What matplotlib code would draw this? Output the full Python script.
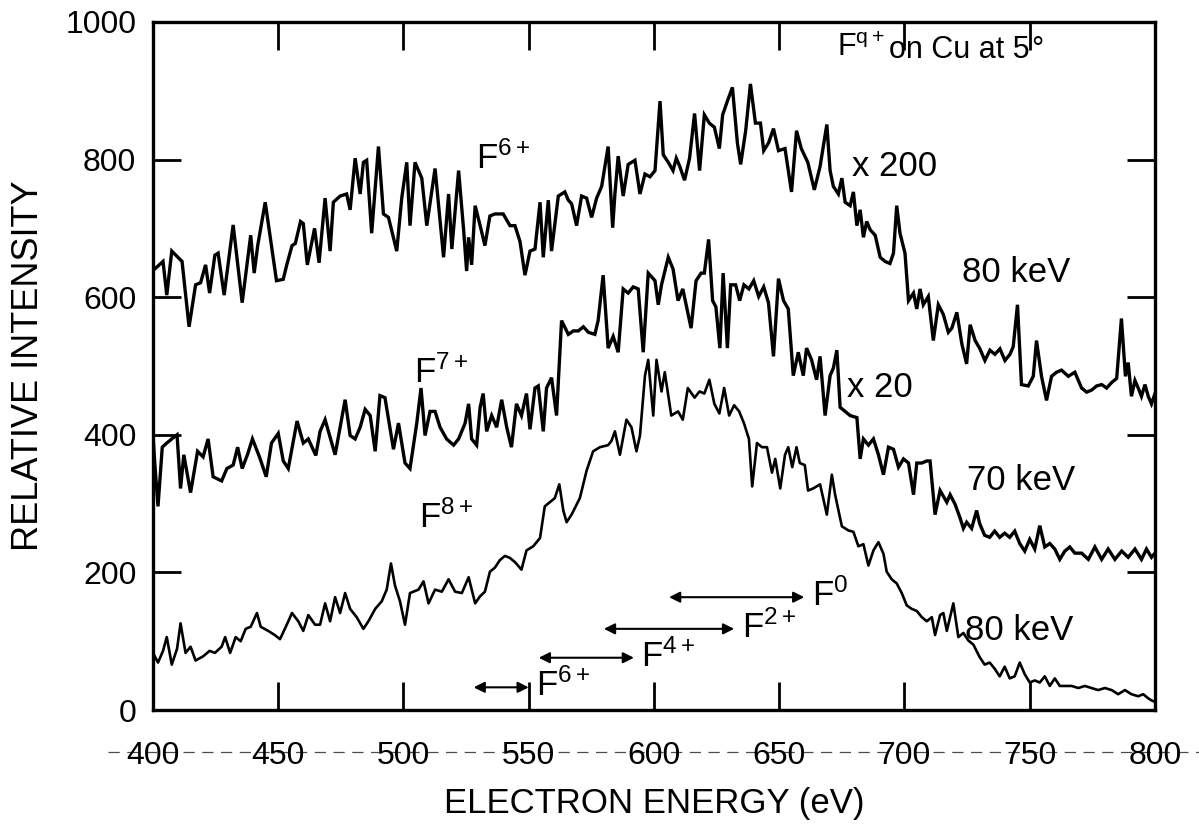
import matplotlib
matplotlib.use("Agg")
import matplotlib.pyplot as plt
from matplotlib.lines import Line2D

plt.rcParams["font.family"] = ["Liberation Sans", "DejaVu Sans"]
plt.rcParams["mathtext.fontset"] = "custom"
plt.rcParams["mathtext.rm"] = "Liberation Sans"
plt.rcParams["mathtext.it"] = "Liberation Sans"

# F6+ spectrum, 80 keV, x200
f6_e = [400, 400.7, 404, 405.5, 407.5, 411.6, 414.4, 417, 419, 421, 422.6, 424.7, 426, 428.4,
        432, 435.6, 439, 440.4, 441.8, 444.8, 449.3, 452, 453.4, 455.5, 456.8, 458.9, 460, 461.6,
        464.5, 466.3, 468.7, 470.7, 472, 474.7, 477.3, 478.7, 480.7, 482.7, 484, 485.3, 487.3, 490,
        492, 494, 497.3, 499.3, 501.3, 502.6, 504.6, 507.3, 509.3, 512.6, 516, 518, 519.3, 522,
        524, 525.2, 526, 527.2, 528.6, 530.6, 532.5, 534.5, 536.5, 539.8, 542.5, 544.5, 546.5,
        548.5, 550.5, 552.5, 554.5, 555.8, 557.8, 559.1, 561.8, 564.4, 565.8, 567.1, 569.1, 571.1,
        573.1, 575.1, 577.1, 579.1, 581.7, 583.5, 584.4, 585.7, 587.7, 589.7, 592.4, 594.4, 596.4,
        598.4, 600.4, 602.4, 603.7, 605.7, 607.6, 608.9, 610.3, 612.2, 614.2, 616.2, 618.2, 620.1,
        622.1, 624.1, 626.1, 627.4, 629.3, 631.3, 633.3, 634.6, 636.6, 638.5, 640.5, 642.5, 643.8,
        645.7, 647.7, 649.7, 652.3, 654.9, 656.9, 658.8, 661.4, 664, 666.3, 669, 670.3, 671.6,
        673.6, 675, 676.3, 678.3, 679.6, 681, 682.3, 683.6, 684.9, 686.3, 688.3, 690.3, 692.2,
        694.2, 695.6, 696.9, 698.2, 700.2, 701.6, 703.6, 704.9, 706.2, 707.5, 709.5, 711.5, 713.5,
        715.5, 717.5, 718.9, 720.9, 722.9, 724.8, 726.2, 728.2, 730.1, 732.1, 734.1, 736.1, 738.1,
        740.1, 742.1, 743.4, 745.1, 746.7, 749.4, 751.4, 752.7, 754.7, 756.7, 758.7, 760.7, 762.7,
        765.4, 768, 770.7, 772.7, 774.7, 776.7, 778.7, 780.7, 782.7, 784.7, 786.6, 788.2, 789.3,
        790.6, 792, 793.3, 794.6, 796, 797.3, 798.6, 800]
f6_i = [641, 641, 652, 603, 667, 652, 557, 618, 621, 647, 606, 661, 664, 603,
        705, 592, 690, 635, 675, 738, 624, 626, 647, 675, 678, 710, 707, 647,
        700, 650, 744, 667, 738, 747, 750, 727, 802, 750, 796, 799, 693, 819,
        721, 716, 667, 744, 796, 704, 796, 773, 704, 787, 658, 750, 670, 784,
        698, 638, 687, 647, 733, 704, 675, 718, 721, 721, 704, 704, 681,
        632, 667, 670, 738, 658, 741, 667, 747, 753, 741, 736, 704, 747,
        744, 716, 744, 761, 819, 701, 750, 805, 747, 793, 799, 750, 779,
        775, 784, 885, 807, 796, 784, 802, 790, 770, 802, 867, 784, 865,
        853, 847, 816, 865, 885, 905, 824, 793, 842, 910, 853, 853, 813,
        824, 845, 813, 816, 753, 842, 816, 796, 756, 790, 851, 784, 761,
        750, 773, 738, 733, 753, 704, 727, 687, 710, 698, 690, 658, 652,
        649, 664, 733, 693, 664, 595, 606, 583, 612, 589, 601, 537, 589,
        575, 549, 555, 578, 532, 503, 560, 537, 525, 508, 523, 517, 525,
        508, 517, 528, 589, 473, 471, 485, 537, 485, 450, 485, 491, 494,
        485, 491, 468, 462, 465, 471, 473, 468, 476, 482, 569, 485, 505,
        456, 479, 468, 456, 473, 456, 445, 460]

# F7+ spectrum, 70 keV, x20
f7_e = [400, 400.7, 402, 403.7, 405.5, 407.5, 409.6, 411, 412.3, 415, 417.8, 420, 422, 424,
        427.4, 429.5, 432, 433.8, 435.6, 437.7, 439.7, 442.5, 445.2, 447.3, 450, 452, 454, 457.5,
        460, 462, 465, 466.7, 468.7, 472.7, 476.7, 478.7, 480.7, 482.7, 484.7, 486.7, 488.7,
        490.6, 492.6, 496, 498, 500.6, 502.6, 505.3, 507, 508.6, 510.6, 512.6, 514.6, 517.2, 520,
        522, 524.6, 526, 527.2, 529.2, 530.6, 531.8, 533.2, 535.2, 537.2, 539.2, 541.2, 543.1,
        545.1, 547.1, 549.1, 550.5, 552.5, 553.8, 555.8, 557.1, 559.1, 561.1, 563.1, 565.8, 567.8,
        569.8, 571.8, 573.8, 576.4, 577.7, 579.7, 581.7, 583.7, 585.7, 587.7, 589.7, 591.7, 593.7,
        595.7, 597.7, 600.4, 601.7, 603, 605.7, 607.6, 609.6, 611.5, 614.8, 616.8, 618.8, 620.1,
        621.8, 623.4, 624.7, 626.3, 627.6, 629.3, 630.6, 632.6, 634.2, 635.9, 637.9, 639.8, 641.8,
        643.8, 645.7, 647.7, 649.7, 651.7, 653.6, 655.6, 657.6, 659.6, 660.9, 662.9, 664.9, 666.3,
        668.3, 670.3, 671.6, 673, 674.3, 676.3, 678.3, 681, 682.3, 683.6, 685.6, 687.6, 689.6,
        691.6, 693.6, 695.6, 697.6, 699.6, 701.6, 703.6, 704.9, 706.9, 708.9, 710.2, 712.2, 714.2,
        716.9, 718.2, 720.2, 722.2, 723.5, 724.8, 726.8, 728.8, 730, 732, 734, 736, 738, 740, 742,
        744, 746, 748, 750, 752, 754, 756, 758, 760, 762, 764, 766, 768, 770.7, 773.4, 776, 778.7,
        781.3, 784, 786.7, 789.3, 792, 794.6, 796.6, 798.6, 800]
f7_i = [400, 359, 296, 382, 388, 394, 400, 322, 371, 316, 376, 368, 394, 339,
        333, 351, 356, 382, 351, 371, 394, 368, 339, 388, 402, 362, 351, 420,
        388, 394, 370, 405, 422, 371, 451, 399, 394, 411, 437, 428, 376,
        457, 454, 379, 417, 359, 351, 417, 468, 399, 434, 434, 411, 394, 385,
        394, 417, 445, 394, 385, 440, 460, 405, 428, 411, 451, 411, 382,
        445, 428, 460, 408, 468, 471, 405, 468, 483, 428, 566, 546, 551,
        551, 557, 549, 546, 566, 632, 526, 543, 520, 612, 606, 615, 612,
        520, 635, 624, 589, 618, 658, 641, 595, 612, 555, 624, 635, 635,
        684, 595, 586, 526, 635, 526, 618, 618, 595, 618, 612, 624, 601,
        615, 592, 514, 627, 595, 583, 486, 520, 486, 526, 509, 480, 514,
        428, 486, 497, 523, 440, 434, 428, 425, 365, 394, 385, 394, 371,
        342, 382, 379, 353, 365, 359, 313, 359, 359, 362, 362, 284, 319,
        302, 313, 299, 279, 264, 273, 264, 290, 271, 254, 251, 260, 251, 257, 251,
        260, 242, 231, 248, 234, 268, 237, 242, 234, 219, 231, 237, 228, 228, 219, 237, 219,
        234, 219, 231, 222, 234, 219, 234, 222, 228]

# F8+ spectrum, 80 keV, x1
f8_e = [400, 402, 404, 405.5, 407.5, 409.6, 411, 413, 415, 417, 420, 422.6, 424.7, 427.4,
        428.8, 430.8, 433, 435, 437, 439, 441.5, 443, 446, 448.6, 450.7, 453.4, 455.5, 458, 460,
        462, 464.7, 466.7, 468.7, 470.7, 472.7, 474.7, 476.7, 478.7, 481.3, 484, 486, 488.7,
        491.3, 493.3, 495, 496.6, 498.6, 500.6, 502.6, 506, 508, 510, 512.6, 515.3, 518, 520.6,
        523.3, 526, 528.6, 530.5, 532.5, 534.5, 536.5, 538.5, 540.5, 542.5, 544.5, 547.1, 549.1,
        551.8, 554.5, 556.4, 558.4, 560.4, 562.2, 563.8, 565.1, 567.1, 570.4, 573.1, 575.7, 578.4,
        581.7, 583, 584.4, 586.4, 589, 591, 593, 594.4, 596.4, 597.7, 599.7, 601, 603, 604.3,
        606.9, 609.6, 611.5, 613.5, 616.2, 618.2, 620.1, 622.1, 624.1, 626.1, 628, 630, 632, 634,
        635.9, 637.9, 639.2, 641.1, 643.1, 645.1, 647.1, 648.4, 650.4, 652.3, 653.6, 655.2,
        656.9, 658.2, 660.2, 661.5, 663.5, 666.3, 669, 671, 672.3, 675, 677.6, 679.6, 681.6,
        683.6, 685.6, 687.6, 689.6, 691.6, 692.9, 694.9, 696.9, 698.9, 700.9, 702.9, 704.9,
        706.9, 708.9, 710.9, 712.2, 714.2, 715.5, 716.9, 718.2, 719.5, 721.5, 723.5, 725.5,
        727.5, 730, 732, 734, 736, 738, 740, 742, 744, 746, 748, 750, 752, 754, 756, 758, 760,
        762, 764, 766.7, 769.4, 772, 774.7, 777.3, 780, 782.7, 785.3, 788, 790.6, 793.3, 795.3,
        797.3, 798.6, 800]
f8_i = [83, 69, 86, 106, 66, 89, 126, 83, 92, 72, 78, 86, 83, 92,
        106, 83, 106, 100, 118, 121, 141, 121, 115, 109, 103, 124, 141, 129, 115,
        138, 124, 124, 155, 129, 164, 141, 170, 147, 135, 118, 129, 147,
        158, 175, 213, 181, 158, 124, 170, 175, 187, 155, 175, 172, 190, 172,
        170, 193, 155, 165, 172, 201, 207, 218, 224, 221, 215, 204, 232,
        238, 250, 296, 302, 308, 328, 290, 273, 284, 308, 348, 376, 382,
        385, 391, 405, 371, 422, 411, 376, 399, 486, 509, 428, 509, 463, 491,
        428, 434, 422, 468, 454, 463, 460, 480, 445, 431, 468, 428, 443, 434,
        417, 394, 325, 388, 382, 382, 345, 365, 322, 371, 382, 353,
        382, 359, 356, 319, 322, 328, 284, 342, 313, 267, 261, 259, 238,
        241, 210, 232, 244, 227, 201, 190, 184, 170, 152, 147, 144,
        135, 129, 135, 109, 138, 141, 115, 135, 155, 106, 112, 101,
        95, 77, 66, 69, 60, 49, 63, 46, 49, 69, 52, 40, 43, 40, 49, 35, 46,
        35, 35, 35, 32, 35, 32, 29, 32, 29, 23, 29, 23, 20, 23,
        17, 14, 12]

# energy windows marked with double arrows: (from, to, level)
windows = ["F$^{\\mathrm{0}}$", "F$^{\\mathrm{2+}}$", "F$^{\\mathrm{4+}}$", "F$^{\\mathrm{6+}}$"]
win_lo = [606, 580, 554, 528]
win_hi = [660, 632, 592, 550]
win_level = [164, 118, 76, 33]

fs = 25

fig = plt.figure(figsize=(11.99, 8.26), dpi=100)
ax = fig.add_axes([0.1276, 0.1404, 0.8357, 0.8330])

ax.plot(f6_e, f6_i, color="black", lw=2.4, solid_joinstyle="miter")
ax.plot(f7_e, f7_i, color="black", lw=2.4, solid_joinstyle="miter")
ax.plot(f8_e, f8_i, color="black", lw=1.9)

for lo, hi, lev, name in zip(win_lo, win_hi, win_level, windows):
    ax.annotate("", xy=(hi, lev), xytext=(lo, lev),
                arrowprops=dict(arrowstyle="<|-|>", color="black", lw=1.5,
                                mutation_scale=16, shrinkA=0, shrinkB=0))
    ax.text(hi + 3, lev + 2, name, fontsize=fs, ha="left", va="center")

ax.set_xlim(400, 800)
ax.set_ylim(0, 1000)
ax.set_xticks(range(400, 801, 50))
ax.set_yticks(range(0, 1001, 200))
ax.tick_params(axis="both", direction="in", length=20, width=2, top=True, right=True,
               labelsize=23)
ax.tick_params(axis="x", pad=22)
ax.tick_params(axis="y", pad=12)
for s in ax.spines.values():
    s.set_linewidth(2.4)

ax.set_xlabel("ELECTRON ENERGY (eV)", fontsize=25, labelpad=12)
ax.set_ylabel("RELATIVE INTENSITY", fontsize=26, labelpad=14)

# note at the top, condensed like the original lettering
narrow = ["Liberation Sans Narrow", "Liberation Sans"]
t1 = ax.text(673, 962, "F$^{\\mathrm{q+}}$", fontsize=22, va="center")
t2 = ax.annotate("on Cu at 5", xy=(1, 0.5), xycoords=t1, xytext=(3, -1),
                 textcoords="offset points", fontsize=22, va="center", ha="left",
                 family=narrow)
ax.annotate("°", xy=(1, 0.5), xycoords=t2, xytext=(1, 0),
            textcoords="offset points", fontsize=22, va="center", ha="left")

# curve labels
ax.text(529, 802, "F$^{\\mathrm{6+}}$", fontsize=fs, va="center")
ax.text(679, 790, "x 200", fontsize=fs, va="center")
ax.text(723, 636, "80 keV", fontsize=fs, va="center")
ax.text(504, 490, "F$^{\\mathrm{7+}}$", fontsize=fs, va="center")
ax.text(677, 469, "x 20", fontsize=fs, va="center")
ax.text(725, 334, "70 keV", fontsize=fs, va="center")
ax.text(506, 280, "F$^{\\mathrm{8+}}$", fontsize=fs, va="center")
ax.text(724, 116, "80 keV", fontsize=fs, va="center")

# dashed scan line running through the energy labels
fig.add_artist(Line2D([0.09, 1.0], [1 - 752 / 826] * 2, color="black", lw=0.9,
                      linestyle=(0, (9, 6)), alpha=0.7))

fig.savefig("out.png", dpi=100)
